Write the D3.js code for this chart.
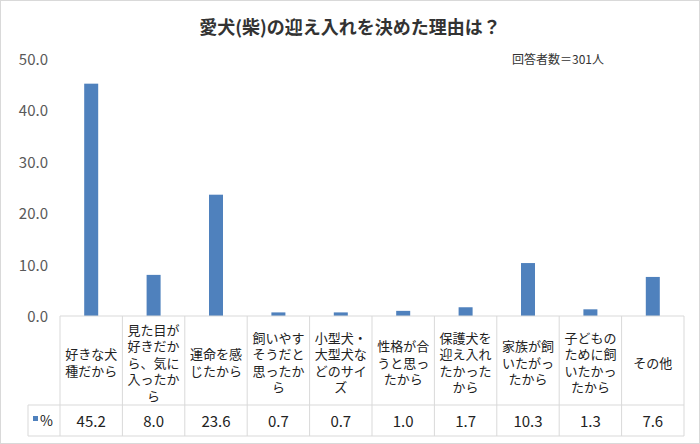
<!DOCTYPE html>
<html>
<head>
<meta charset="utf-8">
<script src="https://d3js.org/d3.v7.min.js"></script>
<style>body{margin:0;background:#fff;} svg{font-family:"Noto Sans CJK JP","Noto Sans",sans-serif;}</style>
</head>
<body>
<div id="chart"></div>
<script>
// データ
let categories = ["好きな犬種だから","見た目が好きだから、気に入ったから","運命を感じたから","飼いやすそうだと思ったから","小型犬・大型犬などのサイズ","性格が合うと思ったから","保護犬を迎え入れたかったから","家族が飼いたがったから","子どものために飼いたかったから","その他"];
let labelLines = [["好きな犬","種だから"],["見た目が","好きだか","ら、気に","入ったか","ら"],["運命を感","じたから"],["飼いやす","そうだと","思ったか","ら"],["小型犬・","大型犬な","どのサイ","ズ"],["性格が合","うと思っ","たから"],["保護犬を","迎え入れ","たかった","から"],["家族が飼","いたがっ","たから"],["子どもの","ために飼","いたかっ","たから"],["その他"]];
let values = [45.2, 8.0, 23.6, 0.7, 0.7, 1.0, 1.7, 10.3, 1.3, 7.6];
let yTicks = [0, 10, 20, 30, 40, 50];

let W = 700, H = 444;
let plotLeft = 60, plotRight = 684, plotTop = 59, plotBottom = 316;
let catBottom = 405, tableBottom = 436, legendLeft = 28;

let svg = d3.select("#chart").append("svg").attr("width", W).attr("height", H);
svg.append("rect").attr("x", 0.5).attr("y", 0.5).attr("width", W - 1).attr("height", H - 1)
    .attr("fill", "#fff").attr("stroke", "#d9d9d9");

let x = d3.scaleBand().domain(categories).range([plotLeft, plotRight]);
let y = d3.scaleLinear().domain([0, 50]).range([plotBottom, plotTop]);

svg.append("text").attr("x", W / 2).attr("y", 34).attr("text-anchor", "middle")
    .attr("font-size", 18).attr("font-weight", "bold").attr("fill", "#333").text("愛犬(柴)の迎え入れを決めた理由は？");
svg.append("text").attr("x", 512).attr("y", 64).attr("font-size", 12).attr("fill", "#333").text("回答者数＝301人");

// y軸ラベル
svg.selectAll(".yt").data(yTicks).enter().append("text")
    .attr("x", 48).attr("y", d => y(d) + 6).attr("text-anchor", "end")
    .attr("font-size", 15).attr("fill", "#595959").text(d => d.toFixed(1));

svg.selectAll(".bar").data(values).enter().append("rect")
    .attr("x", (d, i) => x(categories[i]) + x.bandwidth() / 2 - 7)
    .attr("width", 14)
    .attr("y", d => y(d)).attr("height", d => plotBottom - y(d))
    .attr("fill", "#4f81bd");

// データテーブル
let g = svg.append("g").attr("stroke", "#d9d9d9").attr("fill", "none");
g.append("line").attr("x1", plotLeft).attr("x2", plotRight).attr("y1", plotBottom).attr("y2", plotBottom);
g.append("line").attr("x1", legendLeft).attr("x2", plotRight).attr("y1", catBottom).attr("y2", catBottom);
g.append("line").attr("x1", legendLeft).attr("x2", plotRight).attr("y1", tableBottom).attr("y2", tableBottom);
g.append("line").attr("x1", legendLeft).attr("x2", legendLeft).attr("y1", catBottom).attr("y2", tableBottom);
g.selectAll(".v").data(categories.concat(["end"])).enter().append("line")
    .attr("x1", d => d === "end" ? plotRight : x(d)).attr("x2", d => d === "end" ? plotRight : x(d))
    .attr("y1", plotBottom).attr("y2", tableBottom);

categories.forEach((c, i) => {
    let lines = labelLines[i];
    let lh = 16.5;
    let cy = (plotBottom + catBottom) / 2 + 2;
    let t = svg.append("text").attr("text-anchor", "middle").attr("font-size", 13).attr("fill", "#222");
    lines.forEach((l, j) => {
        t.append("tspan").attr("x", x(c) + x.bandwidth() / 2)
            .attr("y", cy - (lines.length - 1) * lh / 2 + j * lh + 5).text(l);
    });
    svg.append("text").attr("x", x(c) + x.bandwidth() / 2).attr("y", 427).attr("text-anchor", "middle")
        .attr("font-size", 15).attr("fill", "#222").text(values[i].toFixed(1));
});
svg.append("rect").attr("x", 33).attr("y", 416).attr("width", 5).attr("height", 5).attr("fill", "#4f81bd");
svg.append("text").attr("x", 40).attr("y", 426).attr("font-size", 14).attr("fill", "#222").text("%");
</script>
</body>
</html>
